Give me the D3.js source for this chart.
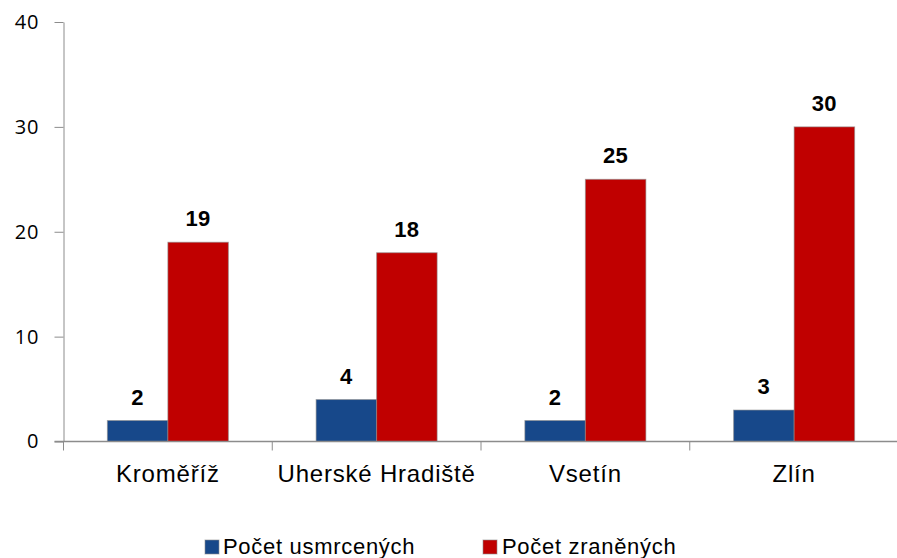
<!DOCTYPE html>
<html>
<head>
<meta charset="utf-8">
<script src="https://cdn.jsdelivr.net/npm/d3@7"></script>
<style>
  body { margin: 0; background: #fff; }
  svg { display: block; }
</style>
</head>
<body>
<div class="chart"></div>
<script>
const categories = ['Kroměříž', 'Uherské Hradiště', 'Vsetín', 'Zlín'];
const seriesNames = ['Počet usmrcených', 'Počet zraněných'];
const killed = [2, 4, 2, 3];
const injured = [19, 18, 25, 30];
const yTicks = [0, 10, 20, 30, 40];

const colors = ['#17488a', '#c00000'];

const width = 897, height = 558;
const plot = { left: 63.5, right: 898.5, top: 22, bottom: 441.5 };

const svg = d3.select('.chart')
  .append('svg')
  .attr('width', width)
  .attr('height', height);

const y = d3.scaleLinear().domain([0, 40]).range([plot.bottom, plot.top]);

const x = d3.scaleBand()
  .domain(categories)
  .range([plot.left, plot.right])
  .padding(0);

// bars in a group take ~121px of the ~209px category
const x1 = d3.scaleBand()
  .domain(seriesNames)
  .range([0, x.bandwidth()])
  .paddingInner(0)
  .paddingOuter(0.725);

// y axis
const yAxis = svg.append('g')
  .attr('transform', `translate(${plot.left},0)`)
  .call(d3.axisLeft(y).tickValues(yTicks).tickSize(9).tickPadding(15).tickSizeOuter(0));
yAxis.select('.domain').attr('stroke', '#8c8c8c');
yAxis.selectAll('.tick line').attr('stroke', '#8c8c8c');
yAxis.selectAll('.tick text')
  .attr('fill', '#000')
  .style('font-family', '"Open Sans", sans-serif')
  .style('font-size', '20px')
  .style('letter-spacing', '1px');

// bars
const data = categories.map((c, i) => ({ cat: c, values: [killed[i], injured[i]] }));

const groups = svg.append('g').selectAll('g')
  .data(data)
  .join('g')
  .attr('transform', d => `translate(${x(d.cat)},0)`);

groups.selectAll('rect')
  .data(d => d.values.map((v, j) => ({ name: seriesNames[j], value: v, j })))
  .join('rect')
  .attr('x', d => x1(d.name))
  .attr('y', d => y(d.value))
  .attr('width', x1.bandwidth())
  .attr('height', d => y(0) - y(d.value))
  .attr('fill', d => colors[d.j])
  .attr('stroke', '#8c8c8c')
  .attr('stroke-opacity', 0.6)
  .attr('stroke-width', 1);

// data labels
groups.selectAll('text.val')
  .data(d => d.values.map((v, j) => ({ name: seriesNames[j], value: v })))
  .join('text')
  .attr('class', 'val')
  .attr('x', d => x1(d.name) + x1.bandwidth() / 2)
  .attr('y', d => y(d.value) - 16)
  .attr('text-anchor', 'middle')
  .style('font-family', '"Liberation Sans", Arial, sans-serif')
  .style('font-weight', 'bold')
  .style('font-size', '22px')
  .style('letter-spacing', '0.5px')
  .text(d => d.value);

// x axis line and category ticks
svg.append('line')
  .attr('x1', plot.left - 9).attr('x2', plot.right)
  .attr('y1', plot.bottom).attr('y2', plot.bottom)
  .attr('stroke', '#8c8c8c').attr('stroke-width', 1.5);

const boundaries = categories.map(c => x(c)).concat([plot.right]);
svg.append('g').selectAll('line')
  .data(boundaries)
  .join('line')
  .attr('x1', d => d).attr('x2', d => d)
  .attr('y1', plot.bottom).attr('y2', plot.bottom + 9)
  .attr('stroke', '#8c8c8c');

svg.append('g').selectAll('text')
  .data(categories)
  .join('text')
  .attr('x', d => x(d) + x.bandwidth() / 2)
  .attr('y', 482)
  .attr('text-anchor', 'middle')
  .style('font-family', '"Liberation Sans", Arial, sans-serif')
  .style('font-size', '24px')
  .style('letter-spacing', '0.8px')
  .text(d => d);

// legend
const legendPos = [{ sx: 205, tx: 223 }, { sx: 483, tx: 502 }];
const legend = svg.append('g').selectAll('g')
  .data(seriesNames)
  .join('g');

legend.append('rect')
  .attr('x', (d, i) => legendPos[i].sx)
  .attr('y', 540)
  .attr('width', 14)
  .attr('height', 14)
  .attr('fill', (d, i) => colors[i])
  .attr('stroke', '#8c8c8c')
  .attr('stroke-opacity', 0.6);

legend.append('text')
  .attr('x', (d, i) => legendPos[i].tx)
  .attr('y', 554)
  .style('font-family', '"Liberation Sans", Arial, sans-serif')
  .style('font-size', '22px')
  .style('letter-spacing', '0.7px')
  .text(d => d);
</script>
</body>
</html>
